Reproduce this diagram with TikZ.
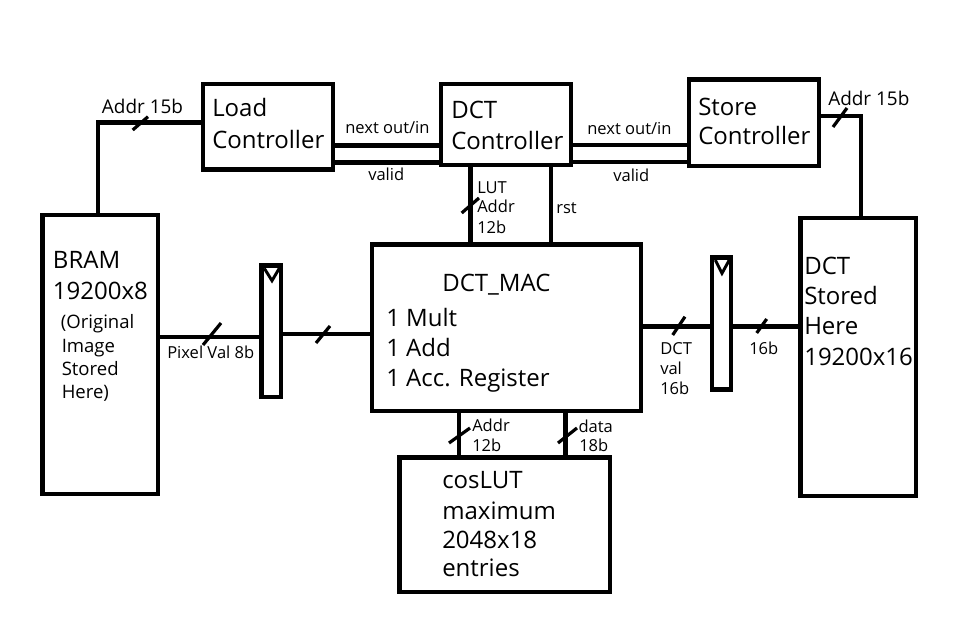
\documentclass[tikz,border=0pt]{standalone}
\usepackage{fontspec}
\setmainfont{Open Sans}
\begin{document}
\begin{tikzpicture}[x=0.75pt,y=-0.75pt,line join=miter,
  blk/.style={draw,line width=3.4pt,inner sep=0pt,outer sep=0pt},
  wire/.style={line width=3.4pt},
  slash/.style={line width=2.4pt},
  vmark/.style={line width=2.2pt},
  big/.style={font=\fontsize{18pt}{20pt}\selectfont,inner sep=0pt,anchor=base west},
  mid/.style={font=\fontsize{13.9pt}{16pt}\selectfont,inner sep=0pt,anchor=base west},
  addrlbl/.style={font=\fontsize{14.2pt}{16pt}\selectfont,inner sep=0pt,anchor=base west},
  lbl/.style={font=\fontsize{12.4pt}{14pt}\selectfont,inner sep=0pt,anchor=base west}]
\fill[white] (0,0) rectangle (971,635);
\useasboundingbox (0,0) rectangle (971,635);

% boxes
\node[blk,minimum width=97.5pt,minimum height=64.1pt] (load) at (268,126.75) {};
\node[blk,minimum width=97.5pt,minimum height=60.75pt] (dctc) at (506,124.5) {};
\node[blk,minimum width=97.5pt,minimum height=64.9pt] (store) at (754,122.75) {};
\node[blk,minimum width=86.6pt,minimum height=209.25pt] (bram) at (100.25,354.5) {};
\node[blk,minimum width=86.6pt,minimum height=208.5pt] (dcts) at (858.25,357) {};
\node[blk,minimum width=201.75pt,minimum height=124.9pt] (mac) at (506.5,327.75) {};
\node[blk,minimum width=157.9pt,minimum height=100.9pt] (lut) at (504.75,524.75) {};
\node[blk,minimum width=14.6pt,minimum height=98.6pt] (regL) at (271.25,331.25) {};
\node[blk,minimum width=14.25pt,minimum height=99pt] (regR) at (721.5,323.5) {};

% register marks
\draw[vmark] (264.3,268.3) -- (272,280.7) -- (279.3,268.3);
\draw[vmark] (715.3,260) -- (722,273.3) -- (729.3,260);

% connectors
\draw[wire] (bram.north -| 98,0) |- (load.west |- 0,122.5);
\draw[wire] (load.east |- 0,145.5) -- (dctc.west |- 0,145.5);
\draw[wire] (load.east |- 0,162.5) -- (dctc.west |- 0,162.5);
\draw[wire] (dctc.east |- 0,145) -- (store.west |- 0,145);
\draw[wire] (dctc.east |- 0,162) -- (store.west |- 0,162);
\draw[wire] (store.east |- 0,116) -| (dcts.north -| 861,0);
\draw[wire] (dctc.south -| 470.5,0) -- (mac.north -| 470.5,0);
\draw[wire] (dctc.south -| 551,0) -- (mac.north -| 551,0);
\draw[wire] (bram.east |- 0,337) -- (regL.west |- 0,337);
\draw[wire] (regL.east |- 0,334) -- (mac.west |- 0,334);
\draw[wire] (mac.east |- 0,326.5) -- (regR.west |- 0,326.5);
\draw[wire] (regR.east |- 0,326.5) -- (dcts.west |- 0,326.5);
\draw[wire] (mac.south -| 459,0) -- (lut.north -| 459,0);
\draw[wire] (mac.south -| 565.5,0) -- (lut.north -| 565.5,0);

% bus slashes
\draw[slash] (132.7,130) -- (148,116.7);
\draw[slash] (833,127) -- (847,108);
\draw[slash] (461.7,213) -- (479,198);
\draw[slash] (203,345) -- (221,323);
\draw[slash] (316,343) -- (330,326);
\draw[slash] (672.7,335) -- (685,316.7);
\draw[slash] (756.7,333) -- (766.7,319);
\draw[slash] (449,443) -- (470,428);
\draw[slash] (558,443) -- (577,428);

% box texts
\node[big] (t1) at (212,117) {Load};
\node[big] (t2) at (212,148) {Controller};
\node[big] (t3) at (451,118) {DCT};
\node[big] (t4) at (451,149) {Controller};
\node[big] (t5) at (698,115) {Store};
\node[big] (t6) at (698,144) {Controller};
\node[big] (t7) at (52.7,268.3) {BRAM};
\node[big] (t8) at (52.7,299) {19200x8};
\node[mid] (t9) at (60.7,328.3) {(Original};
\node[mid] (t10) at (61.5,352) {Image};
\node[mid] (t11) at (61.5,375.5) {Stored};
\node[mid] (t12) at (61.5,398.5) {Here)};
\node[big] (t13) at (442,291.5) {DCT\_MAC};
\node[big] (t14) at (386,326.5) {1 Mult};
\node[big] (t15) at (386,356.5) {1 Add};
\node[big] (t16) at (386,386.5) {1 Acc. Register};
\node[big] (t17) at (804,274) {DCT};
\node[big] (t18) at (804,304) {Stored};
\node[big] (t19) at (804,334) {Here};
\node[big] (t20) at (804,365) {19200x16};
\node[big] (t21) at (442,488.3) {cosLUT};
\node[big] (t22) at (442,519) {maximum};
\node[big] (t23) at (442,548) {2048x18};
\node[big] (t24) at (442,576.7) {entries};

% connector labels
\node[addrlbl] (l1) at (101.7,113.3) {Addr 15b};
\node[addrlbl] (l2) at (828,105) {Addr 15b};
\node[lbl] (l3) at (345,133.3) {next out/in};
\node[lbl] (l4) at (587,134) {next out/in};
\node[lbl] (l5) at (368,180) {valid};
\node[lbl] (l6) at (613,181.7) {valid};
\node[lbl] (l7) at (477,193.3) {LUT};
\node[lbl] (l8) at (477,212.7) {Addr};
\node[lbl] (l9) at (477,233.3) {12b};
\node[lbl] (l10) at (556,213.3) {rst};
\node[lbl] (l11) at (167,358.3) {Pixel Val 8b};
\node[lbl] (l12) at (660,354.3) {DCT};
\node[lbl] (l13) at (660,374) {val};
\node[lbl] (l14) at (660,394) {16b};
\node[lbl] (l15) at (749,354.3) {16b};
\node[lbl] (l16) at (472,431.7) {Addr};
\node[lbl] (l17) at (472,451.7) {12b};
\node[lbl] (l18) at (578.3,432.3) {data};
\node[lbl] (l19) at (579,451.7) {18b};
\end{tikzpicture}
\end{document}
